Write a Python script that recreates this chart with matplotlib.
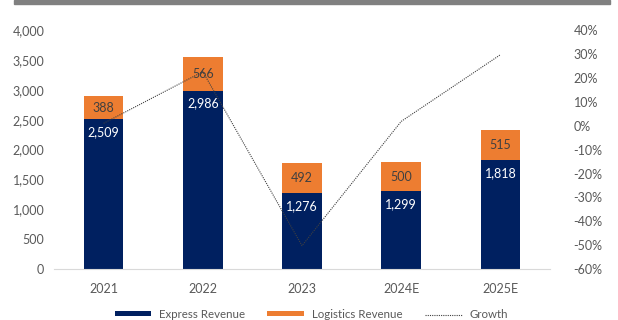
import matplotlib.pyplot as plt
from matplotlib.patches import Rectangle
from matplotlib.ticker import FuncFormatter

plt.rcParams['font.family'] = ['Lato', 'DejaVu Sans']

years = ['2021', '2022', '2023', '2024E', '2025E']
express = [2509, 2986, 1276, 1299, 1818]
logistics = [388, 566, 492, 500, 515]
growth = [1.0, 22.6, -50.2, 1.8, 29.7]

navy = '#002060'
orange = '#ED7D31'
grey_txt = '#595959'

fig = plt.figure(figsize=(6.18, 3.2), dpi=100)
ax = fig.add_axes([0.0874, 0.159, 0.8026, 0.747])

x = range(len(years))
b1 = ax.bar(x, express, width=0.40, color=navy, label='Express Revenue')
b2 = ax.bar(x, logistics, width=0.40, bottom=express, color=orange,
            label='Logistics Revenue')

for i in x:
    ax.annotate(f'{express[i]:,}', (i, express[i]), xytext=(0, -5),
                textcoords='offset points', ha='center', va='top',
                color='white', fontsize=9)
    ax.text(i, express[i] + logistics[i] / 2, f'{logistics[i]:,}',
            ha='center', va='center', color='#404040', fontsize=9)

ax.set_xlim(-0.5, len(years) - 0.5)
ax.set_ylim(0, 4000)
ax.set_yticks(range(0, 4001, 500))
ax.yaxis.set_major_formatter(FuncFormatter(lambda v, p: f'{int(v):,}'))
ax.set_xticks(list(x))
ax.set_xticklabels(years)

for s in ['top', 'right', 'left']:
    ax.spines[s].set_visible(False)
ax.spines['bottom'].set_color('#D9D9D9')
ax.tick_params(axis='both', length=0, colors=grey_txt, labelsize=9)
ax.tick_params(axis='x', pad=10)
ax.tick_params(axis='y', pad=7)

ax2 = ax.twinx()
ln, = ax2.plot(list(x), growth, color='#404040', lw=0.8,
               linestyle=(0, (1, 1)), label='Growth')
ax2.set_ylim(-60, 40)
ax2.set_yticks(range(-60, 41, 10))
ax2.yaxis.set_major_formatter(FuncFormatter(lambda v, p: f'{int(v)}%'))
for s in ax2.spines.values():
    s.set_visible(False)
ax2.tick_params(axis='y', length=0, colors=grey_txt, labelsize=9, pad=17)

# thin grey band across the top
fig.patches.append(Rectangle((14 / 618, 1 - 4 / 320), 596 / 618, 4 / 320,
                             transform=fig.transFigure, color='#808080'))

fig.legend(handles=[b1, b2, ln], loc='center', bbox_to_anchor=(0.504, 0.017),
           ncol=3, frameon=False, fontsize=8.3, handlelength=3.2,
           handleheight=0.3, handletextpad=0.7, columnspacing=1.9,
           labelcolor=grey_txt)

fig.savefig('out.png', dpi=100)
